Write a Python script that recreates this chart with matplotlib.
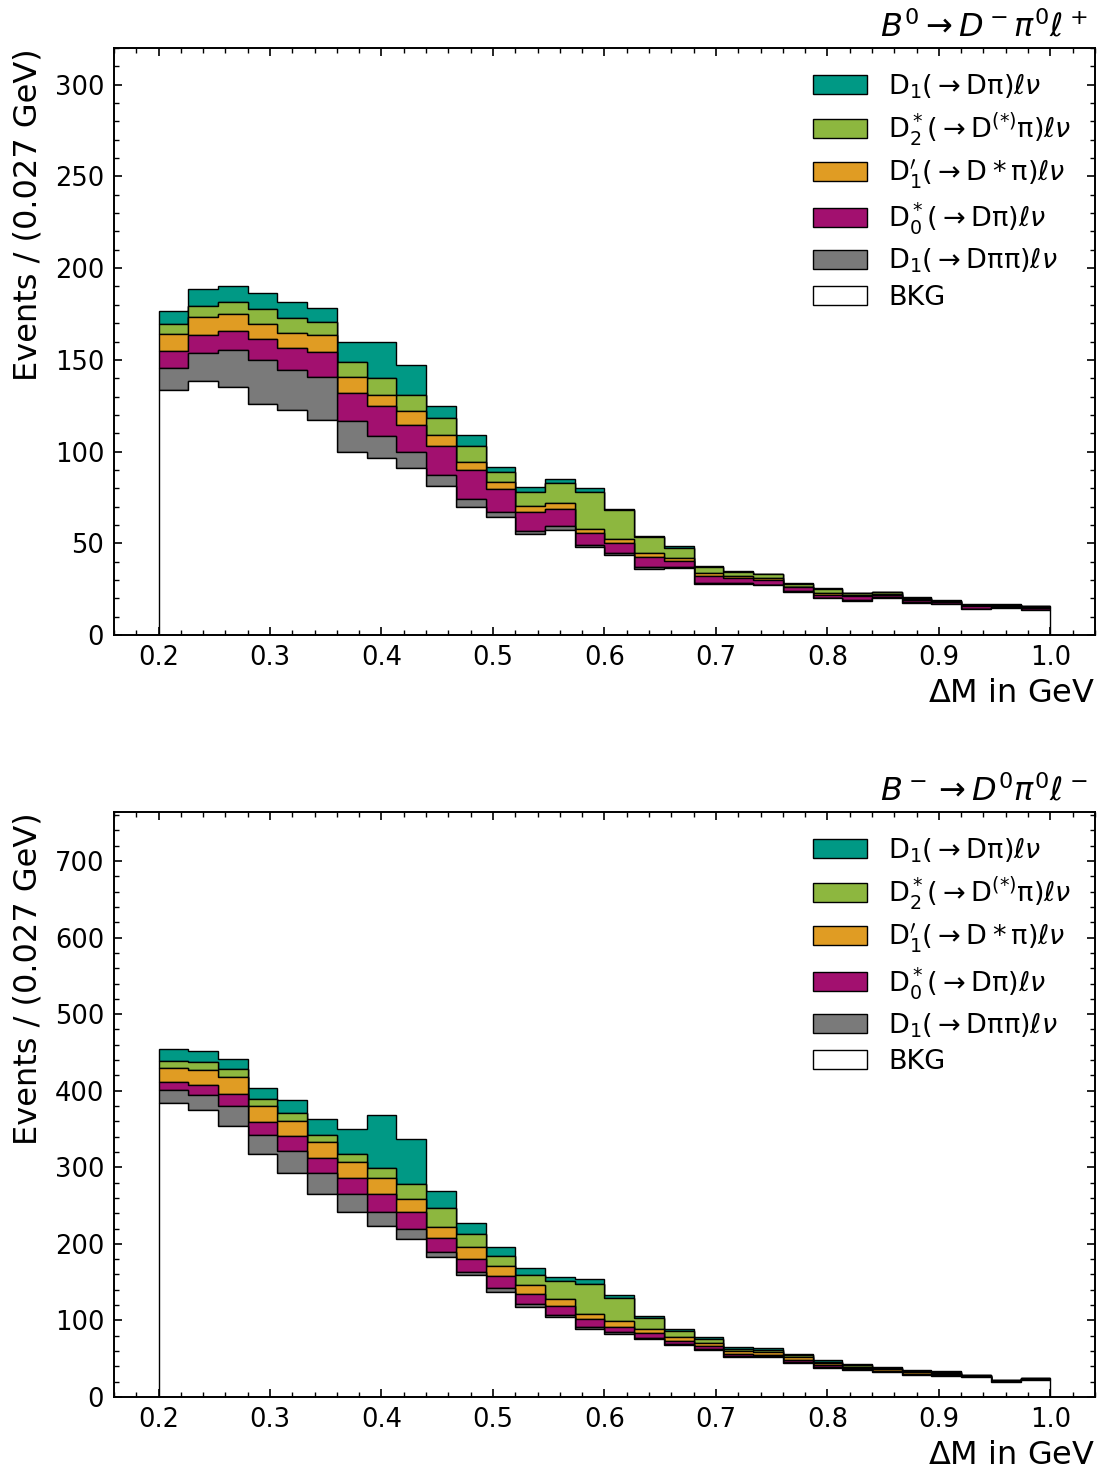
import numpy as np
import matplotlib
matplotlib.use("Agg")
import matplotlib.pyplot as plt
from matplotlib.ticker import AutoMinorLocator, MultipleLocator

# ---------------- data ----------------
bin_edges = np.linspace(0.2, 1.0, 31)

labels = ["BKG",
          r"$\mathrm{D_1(\rightarrow D\pi\pi)}\ell\nu$",
          r"$\mathrm{D_0^*(\rightarrow D\pi)}\ell\nu$",
          r"$\mathrm{D_1^{\prime}(\rightarrow D*\pi)}\ell\nu$",
          r"$\mathrm{D_2^*(\rightarrow D^{(*)}\pi)}\ell\nu$",
          r"$\mathrm{D_1(\rightarrow D\pi)}\ell\nu$"]
colors = ["#ffffff", "#7a7a7a", "#a2106f", "#e09c23", "#8db73f", "#009985"]

# B0 -> D- pi0 l+
top_bkg = [133.6, 138.4, 135.3, 125.8, 122.6, 117.1, 99.8, 96.7, 91.3, 81.3, 69.8, 64.4, 55.1, 57.3, 47.8,
           43.5, 35.8, 36.5, 28.0, 28.0, 27.1, 23.6, 20.0, 18.7, 20.3, 17.6, 16.7, 14.0, 14.9, 13.6]
top_d1pipi = [12.0, 15.2, 20.0, 24.2, 22.1, 23.3, 16.9, 12.0, 8.2, 6.0, 4.2, 2.5, 1.5, 2.3, 1.3,
              1.0, 1.1, 0.8, 0.5, 0.4, 0.4, 0.4, 0.4, 0.3, 0.3, 0.3, 0.2, 0.2, 0.2, 0.2]
top_d0 = [9.1, 10.0, 10.2, 11.5, 11.5, 14.0, 15.1, 16.2, 15.2, 15.8, 16.0, 12.6, 10.3, 8.9, 6.5,
          5.9, 5.8, 3.1, 3.7, 2.9, 2.3, 2.0, 1.6, 2.0, 1.4, 1.4, 1.0, 1.6, 0.8, 1.0]
top_d1p = [9.3, 9.7, 9.4, 8.0, 8.7, 9.2, 8.7, 6.0, 7.3, 6.2, 4.5, 3.8, 3.3, 3.5, 2.2,
           1.8, 1.8, 1.6, 1.8, 1.1, 1.2, 0.4, 0.7, 0.7, 0.5, 0.5, 0.4, 0.3, 0.3, 0.4]
top_d2 = [5.5, 6.2, 6.9, 8.1, 7.8, 6.9, 8.2, 9.1, 8.9, 8.9, 8.8, 5.8, 7.6, 10.7, 20.2,
          16.0, 8.8, 5.3, 2.9, 1.8, 2.0, 1.6, 2.3, 1.0, 0.7, 0.5, 0.4, 0.4, 0.3, 0.4]
top_d1 = [7.2, 9.1, 8.6, 8.8, 8.6, 8.0, 11.1, 19.8, 16.2, 6.7, 5.6, 2.7, 2.8, 2.2, 2.0,
          0.3, 0.7, 1.2, 0.7, 0.5, 0.5, 0.5, 0.5, 0.4, 0.3, 0.3, 0.2, 0.2, 0.2, 0.2]

# B- -> D0 pi0 l-
bot_bkg = [384.4, 374.8, 354.3, 317.4, 292.1, 264.7, 241.2, 222.9, 206.3, 182.4, 159.3, 137.5, 117.1, 104.5, 89.2,
           82.7, 75.3, 67.5, 61.0, 51.8, 52.7, 44.0, 38.3, 35.3, 32.3, 28.7, 27.9, 25.7, 19.6, 21.8]
bot_d1pipi = [16.5, 19.6, 26.2, 24.8, 28.8, 27.4, 23.9, 19.1, 12.7, 6.6, 4.3, 4.5, 3.9, 2.2, 2.6,
              1.8, 1.3, 1.3, 1.7, 1.4, 1.2, 1.2, 1.0, 0.7, 0.7, 0.6, 0.5, 0.4, 0.3, 0.3]
bot_d0 = [10.1, 13.1, 14.8, 16.5, 20.0, 20.0, 20.5, 23.1, 22.6, 19.0, 16.6, 16.0, 13.5, 11.8, 9.7,
          7.3, 7.0, 4.3, 3.9, 3.0, 1.3, 3.3, 2.2, 1.8, 1.5, 1.3, 1.2, 0.8, 0.7, 0.8]
bot_d1p = [18.7, 19.5, 22.2, 21.8, 20.0, 21.4, 20.9, 20.5, 16.6, 14.4, 15.3, 13.1, 11.4, 9.1, 6.9,
           7.1, 4.8, 4.9, 4.3, 3.9, 3.2, 3.3, 2.5, 2.0, 1.7, 1.7, 1.4, 0.9, 0.8, 0.8]
bot_d2 = [8.7, 10.9, 10.5, 8.7, 9.6, 8.7, 11.3, 13.1, 20.0, 24.0, 17.4, 13.4, 13.0, 24.3, 38.8,
          30.4, 14.4, 8.2, 5.2, 3.0, 3.0, 2.7, 2.3, 1.7, 1.6, 1.6, 1.6, 0.8, 0.7, 0.7]
bot_d1 = [15.7, 14.0, 13.4, 13.9, 17.4, 20.9, 32.6, 69.2, 59.2, 23.0, 13.9, 11.0, 9.6, 4.4, 6.5,
          3.5, 3.4, 2.2, 2.7, 2.6, 3.0, 2.1, 1.6, 1.2, 1.0, 0.9, 0.9, 0.5, 0.5, 0.4]

titles = [r"$B^0 \rightarrow D^-\pi^0\ell^+$", r"$B^- \rightarrow D^0\pi^0\ell^-$"]
panels = [
    [top_bkg, top_d1pipi, top_d0, top_d1p, top_d2, top_d1],
    [bot_bkg, bot_d1pipi, bot_d0, bot_d1p, bot_d2, bot_d1],
]
ylims = [320, 764]
ymajor = [50, 100]
ylabel = "Events / (0.027 GeV)"
xlabel = r"$\Delta$M in GeV"

# ---------------- plot ----------------
fig = plt.figure(figsize=(11.01, 14.73), dpi=100)
rects = [[0.1035, 0.5689, 0.891, 0.3985], [0.1035, 0.0516, 0.891, 0.3971]]

centers = 0.5 * (bin_edges[1:] + bin_edges[:-1])
for k in range(2):
    ax = fig.add_axes(rects[k])
    comps = panels[k]
    ax.hist([centers] * len(comps), bins=bin_edges, weights=comps, stacked=True,
            histtype="stepfilled", color=colors, edgecolor="black", linewidth=1.0,
            label=labels)
    ax.set_xlim(0.16, 1.04)
    ax.set_ylim(0, ylims[k])
    ax.xaxis.set_major_locator(MultipleLocator(0.1))
    ax.xaxis.set_minor_locator(AutoMinorLocator(5))
    ax.yaxis.set_major_locator(MultipleLocator(ymajor[k]))
    ax.yaxis.set_minor_locator(AutoMinorLocator(5))
    ax.tick_params(which="both", direction="in", top=True, right=True, labelsize=18.5, pad=7)
    ax.tick_params(which="major", length=6, width=1.2)
    ax.tick_params(which="minor", length=3.5, width=1.0)
    for sp in ax.spines.values():
        sp.set_linewidth(1.4)
    ax.set_ylabel(ylabel, fontsize=23, loc="top", labelpad=8)
    ax.set_xlabel(xlabel, fontsize=23, loc="right", labelpad=5)
    ax.set_title(titles[k], loc="right", fontsize=23, pad=8, x=0.993)
    h, l = ax.get_legend_handles_labels()
    order = [l.index(lab) for lab in labels[::-1]]
    ax.legend([h[i] for i in order], [l[i] for i in order], loc="upper right",
              frameon=False, fontsize=19.5, handlelength=2.0, handleheight=0.7,
              labelspacing=0.35, borderaxespad=0.45)

fig.savefig("out.png", dpi=100)
